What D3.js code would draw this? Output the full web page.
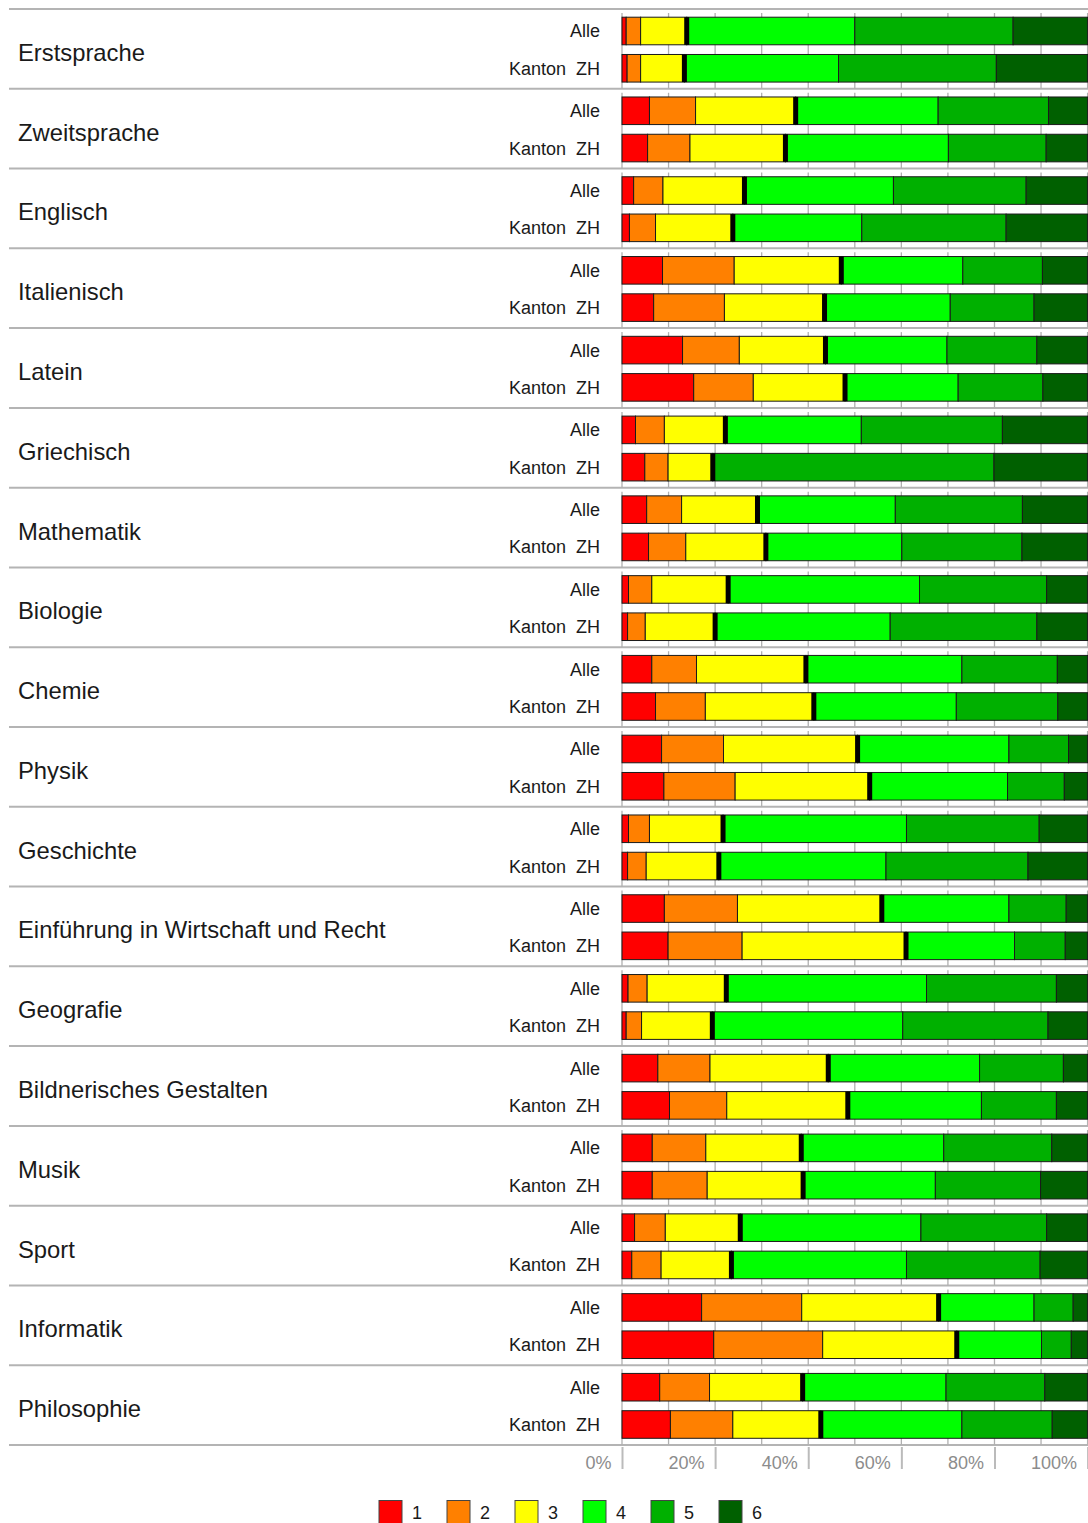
<!DOCTYPE html>
<html>
<head>
<meta charset="utf-8">
<script src="https://cdn.jsdelivr.net/npm/d3@7"></script>
<style>
  body { margin: 0; background: #fff; }
  svg { display: block; font-family: "Liberation Sans", Arial, sans-serif; }
</style>
</head>
<body>
<svg id="chart" width="1088" height="1523"></svg>
<script>
// subjects, top to bottom
const subjects = ["Erstsprache", "Zweitsprache", "Englisch", "Italienisch", "Latein", "Griechisch",
  "Mathematik", "Biologie", "Chemie", "Physik", "Geschichte", "Einführung in Wirtschaft und Recht",
  "Geografie", "Bildnerisches Gestalten", "Musik", "Sport", "Informatik", "Philosophie"];
const rowLabels = ["Alle", "Kanton ZH"];
const gradeLabels = ["1", "2", "3", "4", "5", "6"];
const tickLabels = ["0%", "20%", "40%", "60%", "80%", "100%"];

// share of grades 1..6 in percent
const alle = [
  [0.9, 3.1, 9.9, 36.1, 34.0, 16.0],
  [5.9, 9.9, 21.5, 30.6, 23.7, 8.4],
  [2.5, 6.3, 17.5, 32.0, 28.5, 13.2],
  [8.7, 15.4, 23.0, 26.1, 17.1, 9.7],
  [13.0, 12.2, 18.5, 26.1, 19.3, 10.9],
  [2.9, 6.2, 13.1, 29.2, 30.3, 18.3],
  [5.3, 7.5, 16.3, 29.6, 27.3, 14.0],
  [1.4, 5.0, 16.4, 41.1, 27.3, 8.8],
  [6.4, 9.6, 23.5, 33.5, 20.5, 6.5],
  [8.5, 13.3, 28.8, 32.5, 12.8, 4.1],
  [1.4, 4.5, 15.8, 39.4, 28.5, 10.4],
  [9.1, 15.7, 31.0, 27.3, 12.3, 4.6],
  [1.3, 4.1, 17.0, 43.0, 27.9, 6.7],
  [7.7, 11.2, 25.4, 32.5, 18.0, 5.2],
  [6.5, 11.5, 20.5, 30.6, 23.2, 7.7],
  [2.7, 6.6, 16.1, 38.8, 27.0, 8.8],
  [17.1, 21.5, 29.4, 20.5, 8.4, 3.1],
  [8.1, 10.7, 20.0, 30.8, 21.2, 9.2]
];
const kantonZH = [
  [1.1, 2.9, 9.4, 33.1, 33.9, 19.6],
  [5.5, 9.1, 20.5, 35.0, 21.0, 8.9],
  [1.6, 5.6, 16.6, 27.7, 31.0, 17.5],
  [6.8, 15.2, 21.5, 27.0, 18.0, 11.5],
  [15.4, 12.8, 19.7, 24.3, 18.2, 9.6],
  [4.9, 5.0, 9.6, 0, 60.4, 20.1],
  [5.7, 8.0, 17.2, 29.2, 25.8, 14.1],
  [1.2, 3.8, 15.0, 37.6, 31.5, 10.9],
  [7.2, 10.7, 23.3, 30.6, 21.8, 6.4],
  [9.0, 15.3, 28.9, 29.6, 12.2, 5.0],
  [1.2, 4.0, 15.6, 35.9, 30.5, 12.8],
  [9.9, 15.9, 35.2, 23.3, 10.9, 4.8],
  [0.9, 3.3, 15.2, 40.9, 31.2, 8.5],
  [10.2, 12.3, 26.0, 28.7, 16.1, 6.7],
  [6.5, 11.8, 20.6, 28.4, 22.6, 10.1],
  [2.1, 6.3, 15.1, 37.6, 28.7, 10.2],
  [19.7, 23.4, 28.8, 18.2, 6.4, 3.5],
  [10.4, 13.4, 18.9, 30.3, 19.4, 7.6]
];

const colors = ["#ff0000", "#ff8000", "#ffff00", "#00ff00", "#00b000", "#006000"];

const svg = d3.select("#chart");
const plotTop = 9, plotBottom = 1445;

const x = d3.scaleLinear().domain([0, 1]).range([622, 1087.6]);
const yGroup = d3.scaleBand().domain(subjects).range([plotTop, plotBottom]);
const yRow = d3.scaleBand().domain(rowLabels).range([0, yGroup.bandwidth()])
  .paddingInner(0.26).paddingOuter(0.2).align(0.55);
const color = d3.scaleOrdinal().domain(d3.range(6)).range(colors);

// rows as objects for d3.stack
const rows = [];
subjects.forEach((s, i) => {
  [alle[i], kantonZH[i]].forEach((vals, j) => {
    const r = { subject: s, row: rowLabels[j] };
    vals.forEach((v, k) => r[k] = v);
    rows.push(r);
  });
});
const series = d3.stack().keys(d3.range(6)).offset(d3.stackOffsetExpand)(rows);

// group separators
svg.append("g")
  .selectAll("line")
  .data(d3.range(subjects.length + 1))
  .join("line")
  .attr("x1", 9).attr("x2", 1088)
  .attr("y1", i => i < subjects.length ? yGroup(subjects[i]) : plotBottom)
  .attr("y2", i => i < subjects.length ? yGroup(subjects[i]) : plotBottom)
  .attr("stroke", "#b4b4b4")
  .attr("stroke-width", 2);

// 10% grid inside each group
const gridTicks = d3.range(0, 1.0001, 0.1);
const grid = svg.append("g").attr("stroke", "#b0b0b0").attr("stroke-width", 1.3);
subjects.forEach(s => {
  grid.append("g")
    .selectAll("line")
    .data(gridTicks)
    .join("line")
    .attr("x1", d => x(d)).attr("x2", d => x(d))
    .attr("y1", yGroup(s) + 4)
    .attr("y2", yGroup(s) + yGroup.bandwidth());
});

// bottom axis
const axis = svg.append("g").attr("transform", `translate(0,${plotBottom})`)
  .call(d3.axisBottom(x).tickValues(d3.range(0, 1.0001, 0.2)).tickSize(24)
    .tickFormat((d, i) => tickLabels[i]));
axis.select(".domain").remove();
axis.selectAll(".tick line").attr("stroke", "#bbbbbb").attr("stroke-width", 2).attr("y1", 2);
axis.selectAll(".tick text")
  .attr("fill", "#8c8c8c")
  .attr("font-size", 18)
  .attr("font-family", "Liberation Sans, Arial, sans-serif")
  .attr("text-anchor", "end")
  .attr("x", -11)
  .attr("y", 24)
  .attr("dy", 0);

// subject labels
svg.append("g")
  .selectAll("text")
  .data(subjects)
  .join("text")
  .attr("x", 18)
  .attr("y", d => yGroup(d) + yGroup.bandwidth() / 2 + 12)
  .attr("font-size", 23.8)
  .attr("fill", "#1a1a1a")
  .text(d => d);

// row labels
svg.append("g")
  .selectAll("text")
  .data(rows)
  .join("text")
  .attr("x", 600)
  .attr("y", d => yGroup(d.subject) + yRow(d.row) + yRow.bandwidth() / 2 + 6.5)
  .attr("text-anchor", "end")
  .attr("font-size", 18)
  .attr("word-spacing", 5)
  .attr("fill", "#1a1a1a")
  .text(d => d.row);

// bars
svg.append("g")
  .selectAll("g")
  .data(series)
  .join("g")
  .attr("fill", d => color(d.key))
  .selectAll("rect")
  .data(d => d)
  .join("rect")
  .attr("x", d => x(d[0]))
  .attr("width", d => x(d[1]) - x(d[0]))
  .attr("y", d => yGroup(d.data.subject) + yRow(d.data.row))
  .attr("height", yRow.bandwidth())
  .attr("stroke", "#1a1a1a")
  .attr("stroke-width", 1);

// black marker between grade 3 and 4
svg.append("g")
  .selectAll("rect")
  .data(series[2])
  .join("rect")
  .attr("x", d => x(d[1]) - 2.5)
  .attr("width", 5)
  .attr("y", d => yGroup(d.data.subject) + yRow(d.data.row))
  .attr("height", yRow.bandwidth())
  .attr("fill", "#000");

// legend
const lx = d3.scalePoint().domain(gradeLabels).range([379, 719]);
const legend = svg.append("g")
  .selectAll("g")
  .data(gradeLabels)
  .join("g")
  .attr("transform", d => `translate(${lx(d)},1500.5)`);
legend.append("rect")
  .attr("width", 23).attr("height", 23)
  .attr("fill", (d, i) => colors[i])
  .attr("stroke", "#444").attr("stroke-width", 1);
legend.append("text")
  .attr("x", 33).attr("y", 18.5)
  .attr("font-size", 18)
  .attr("fill", "#1a1a1a")
  .text(d => d);
</script>
</body>
</html>
